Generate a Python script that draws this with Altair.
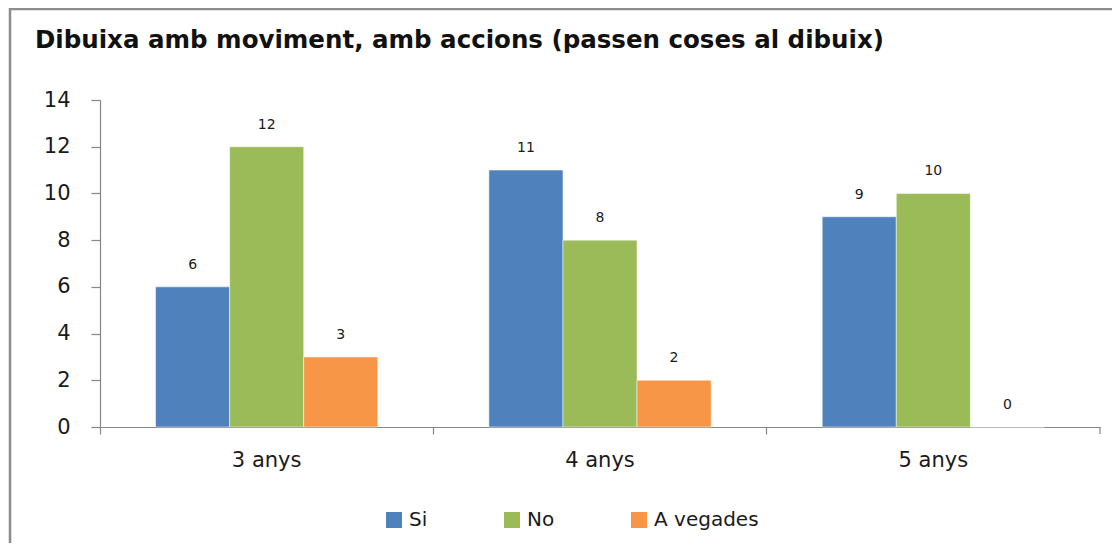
import altair as alt
import pandas as pd

categories = ["3 anys", "4 anys", "5 anys"]
series = ["Si", "No", "A vegades"]
si_values = [6, 11, 9]
no_values = [12, 8, 10]
avegades_values = [3, 2, 0]
colors = ["#4F81BD", "#9BBB59", "#F79646"]
y_ticks = [0, 2, 4, 6, 8, 10, 12, 14]
title_text = "Dibuixa amb moviment, amb accions (passen coses al dibuix)"

rows = []
for i, c in enumerate(categories):
    for s, vals in zip(series, [si_values, no_values, avegades_values]):
        rows.append({"cat": c, "serie": s, "value": vals[i]})
df = pd.DataFrame(rows)

FONT = "DejaVu Sans"
AXIS_GRAY = "#868686"
TEXT = "#1a1a1a"

x_enc = alt.X(
    "cat:N",
    sort=categories,
    scale=alt.Scale(paddingInner=1/3, paddingOuter=1/6),
    axis=alt.Axis(
        title=None, labelAngle=0, bandPosition=-0.25, domainColor=AXIS_GRAY,
        tickColor=AXIS_GRAY, tickSize=7, labelPadding=15, labelFontSize=21,
        labelColor=TEXT, labelFont=FONT, domainWidth=1.2, tickWidth=1.2,
    ),
)
xo = alt.XOffset("serie:N", sort=series, scale=alt.Scale(paddingInner=0, paddingOuter=0))
y_enc = alt.Y(
    "value:Q",
    scale=alt.Scale(domain=[0, 14], nice=False),
    axis=alt.Axis(
        title=None, values=y_ticks, grid=False, domainColor=AXIS_GRAY,
        tickColor=AXIS_GRAY, tickSize=9, labelPadding=21, labelFontSize=21,
        labelColor=TEXT, labelFont=FONT, domainWidth=1.2, tickWidth=1.2,
    ),
)
color_enc = alt.Color(
    "serie:N",
    sort=series,
    scale=alt.Scale(domain=series, range=colors),
    legend=alt.Legend(
        title=None, orient="none", direction="horizontal", legendX=284, legendY=410,
        symbolType="square", symbolSize=256, symbolStrokeWidth=0, labelFontSize=20,
        labelFont=FONT, labelColor=TEXT, labelOffset=5, columnPadding=74,
        gridAlign="none", padding=0, symbolOpacity=1,
    ),
)

base = alt.Chart(df)
bars = base.mark_bar(opacity=1, stroke="white", strokeWidth=0.5).encode(
    x=x_enc, xOffset=xo, y=y_enc, color=color_enc
)
labels = base.mark_text(
    fontSize=14, font=FONT, color=TEXT, baseline="middle", dy=-22
).encode(x=alt.X("cat:N", sort=categories), xOffset=xo, y="value:Q", text="value:Q")

end_tick = alt.Chart(pd.DataFrame({"cat": [categories[-1]]})).mark_rule(
    color=AXIS_GRAY, strokeWidth=1.2, xOffset=55.5
).encode(
    x=alt.X("cat:N", sort=categories, bandPosition=1),
    y=alt.value(327), y2=alt.value(334),
)

frame = alt.Chart(pd.DataFrame({"a": [0]})).mark_rect(
    fill=None, stroke="#8c8c8c", strokeWidth=2.5
).encode(
    x=alt.value(-90), x2=alt.value(1060), y=alt.value(-91), y2=alt.value(480)
)

chart = alt.layer(frame, bars, labels, end_tick).properties(
    width=1000,
    height=327,
    background="white",
    title=alt.TitleParams(
        title_text, anchor="start", frame="group", dx=-65, font=FONT,
        fontSize=24.5, fontWeight="bold", color="#111", baseline="alphabetic",
        offset=0, dy=65,
    ),
    autosize=alt.AutoSizeParams(type="none"),
    padding={"left": 92, "top": 92, "right": 12, "bottom": 116},
).configure_view(strokeWidth=0, stroke=None)

chart.save("out.html", embed_options={"renderer": "svg", "actions": False})
